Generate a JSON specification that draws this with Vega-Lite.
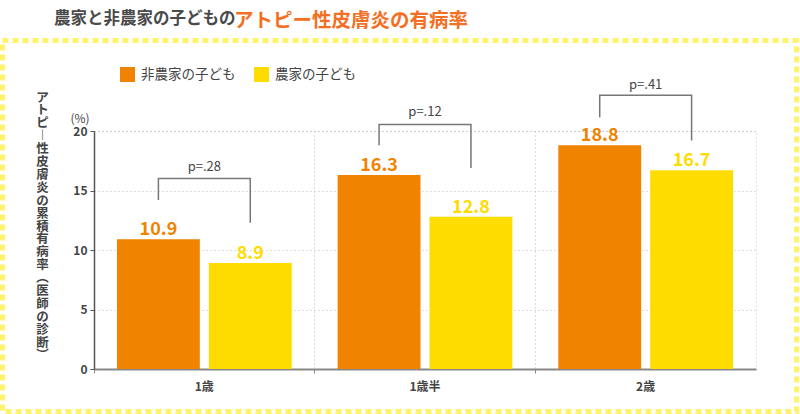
{
  "$schema": "https://vega.github.io/schema/vega-lite/v6.json",
  "width": 662,
  "height": 238,
  "autosize": {"type": "none"},
  "padding": {"left": 94, "top": 131, "right": 44, "bottom": 45},
  "background": "white",
  "config": {"font": "Noto Sans CJK JP", "view": {"stroke": "#c8c8c8", "strokeDash": [1, 3]}},
  "title": {
    "text": "農家と非農家の子どもの",
    "subtitle": "​　　　　　　　　　 アトピー性皮膚炎の有病率",
    "anchor": "start",
    "frame": "group",
    "dx": -40,
    "offset": 7.5,
    "font": "Noto Sans CJK JP",
    "fontSize": 16.5,
    "fontWeight": "bold",
    "color": "#4a4a4a",
    "subtitleFont": "Noto Sans CJK JP",
    "subtitleFontSize": 19.5,
    "subtitleFontWeight": "bold",
    "subtitleColor": "#f26f24",
    "subtitlePadding": -15.5
  },
  "datasets": {
    "bars": [
      {"age": "1歳", "series": "非農家の子ども", "value": 10.9},
      {"age": "1歳", "series": "農家の子ども", "value": 8.9},
      {"age": "1歳半", "series": "非農家の子ども", "value": 16.3},
      {"age": "1歳半", "series": "農家の子ども", "value": 12.8},
      {"age": "2歳", "series": "非農家の子ども", "value": 18.8},
      {"age": "2歳", "series": "農家の子ども", "value": 16.7}
    ],
    "bracket": [
      {"age": "1歳", "series": "非農家の子ども", "y": 14.2, "o": 1},
      {"age": "1歳", "series": "非農家の子ども", "y": 16.0, "o": 2},
      {"age": "1歳", "series": "農家の子ども", "y": 16.0, "o": 3},
      {"age": "1歳", "series": "農家の子ども", "y": 12.3, "o": 4},
      {"age": "1歳半", "series": "非農家の子ども", "y": 18.8, "o": 1},
      {"age": "1歳半", "series": "非農家の子ども", "y": 20.55, "o": 2},
      {"age": "1歳半", "series": "農家の子ども", "y": 20.55, "o": 3},
      {"age": "1歳半", "series": "農家の子ども", "y": 16.9, "o": 4},
      {"age": "2歳", "series": "非農家の子ども", "y": 21.15, "o": 1},
      {"age": "2歳", "series": "非農家の子ども", "y": 23.0, "o": 2},
      {"age": "2歳", "series": "農家の子ども", "y": 23.0, "o": 3},
      {"age": "2歳", "series": "農家の子ども", "y": 19.2, "o": 4}
    ],
    "pvals": [
      {"age": "1歳", "label": "p=.28", "y": 17.0},
      {"age": "1歳半", "label": "p=.12", "y": 21.6},
      {"age": "2歳", "label": "p=.41", "y": 23.9}
    ],
    "frame": [{"name": "frame"}],
    "unit": [{"label": "(%)"}]
  },
  "layer": [
    {
      "data": {"name": "frame"},
      "mark": {"type": "rect", "fill": "white", "fillOpacity": 0, "stroke": "#fff36b", "strokeWidth": 5, "strokeDash": [6, 4]},
      "encoding": {
        "x": {"value": -91.5},
        "x2": {"value": 702.5},
        "y": {"value": -90.5},
        "y2": {"value": 280.5}
      }
    },
    {
      "data": {"name": "bars"},
      "mark": {"type": "bar"},
      "encoding": {
        "x": {
          "field": "age", "type": "nominal", "sort": ["1歳", "1歳半", "2歳"],
          "scale": {"paddingInner": 0, "paddingOuter": 0},
          "axis": {
            "title": null, "bandPosition": 0, "grid": true, "gridDash": [1, 3], "gridColor": "#bbb",
            "domainColor": "#888", "domainWidth": 2, "tickColor": "#888", "tickSize": 4,
            "labelFontSize": 12, "labelFontWeight": "bold", "labelColor": "#444", "labelPadding": 8, "labelAngle": 0
          }
        },
        "xOffset": {
          "field": "series", "type": "nominal", "sort": ["非農家の子ども", "農家の子ども"],
          "scale": {"paddingInner": 0.098, "paddingOuter": 0.25}
        },
        "y": {
          "field": "value", "type": "quantitative",
          "scale": {"domain": [0, 20], "nice": false},
          "axis": {
            "values": [0, 5, 10, 15, 20],
            "title": ["ア", "ト", "ピ", "︱", "性", "皮", "膚", "炎", "の", "累", "積", "有", "病", "率", "︵", "医", "師", "の", "診", "断", "︶"],
            "titleAngle": 0, "titleX": -52, "titleY": -40, "titleAlign": "center", "titleBaseline": "top",
            "titleLineHeight": 12.9, "titleFontSize": 12.5, "titleFontWeight": "bold", "titleColor": "#444",
            "grid": true, "gridDash": [1, 3], "gridColor": "#bbb",
            "domainColor": "#555", "domainWidth": 1.5, "tickColor": "#555", "tickSize": 4,
            "labelFontSize": 12, "labelFontWeight": "bold", "labelColor": "#444", "labelPadding": 3
          }
        },
        "color": {
          "field": "series", "type": "nominal",
          "scale": {"domain": ["非農家の子ども", "農家の子ども"], "range": ["#f08300", "#ffdc00"]},
          "legend": {
            "title": null, "orient": "none", "legendX": 26, "legendY": -64, "direction": "horizontal",
            "symbolType": "square", "symbolSize": 225, "symbolStrokeWidth": 0, "symbolOpacity": 1,
            "labelFontSize": 13.5, "labelColor": "#444", "labelOffset": 6, "columnPadding": 18
          }
        }
      }
    },
    {
      "data": {"name": "bars"},
      "mark": {"type": "text", "baseline": "alphabetic", "dy": -4, "fontSize": 18, "fontWeight": "bold"},
      "encoding": {
        "x": {"field": "age", "type": "nominal", "sort": ["1歳", "1歳半", "2歳"]},
        "xOffset": {"field": "series", "type": "nominal", "sort": ["非農家の子ども", "農家の子ども"]},
        "y": {"field": "value", "type": "quantitative"},
        "text": {"field": "value", "type": "quantitative", "format": ".1f"},
        "color": {"field": "series", "type": "nominal"}
      }
    },
    {
      "data": {"name": "bracket"},
      "mark": {"type": "line", "stroke": "#777", "strokeWidth": 1.5},
      "encoding": {
        "x": {"field": "age", "type": "nominal", "sort": ["1歳", "1歳半", "2歳"]},
        "xOffset": {"field": "series", "type": "nominal", "sort": ["非農家の子ども", "農家の子ども"]},
        "y": {"field": "y", "type": "quantitative"},
        "order": {"field": "o", "type": "quantitative"},
        "detail": {"field": "age", "type": "nominal"}
      }
    },
    {
      "data": {"name": "pvals"},
      "mark": {"type": "text", "baseline": "middle", "fontSize": 13, "color": "#444"},
      "encoding": {
        "x": {"field": "age", "type": "nominal", "sort": ["1歳", "1歳半", "2歳"]},
        "y": {"field": "y", "type": "quantitative"},
        "text": {"field": "label", "type": "nominal"}
      }
    },
    {
      "data": {"name": "unit"},
      "mark": {"type": "text", "baseline": "middle", "align": "center", "fontSize": 12, "color": "#444", "dx": -14, "dy": -12},
      "encoding": {
        "x": {"value": 0},
        "y": {"datum": 20},
        "text": {"field": "label", "type": "nominal"}
      }
    }
  ]
}
